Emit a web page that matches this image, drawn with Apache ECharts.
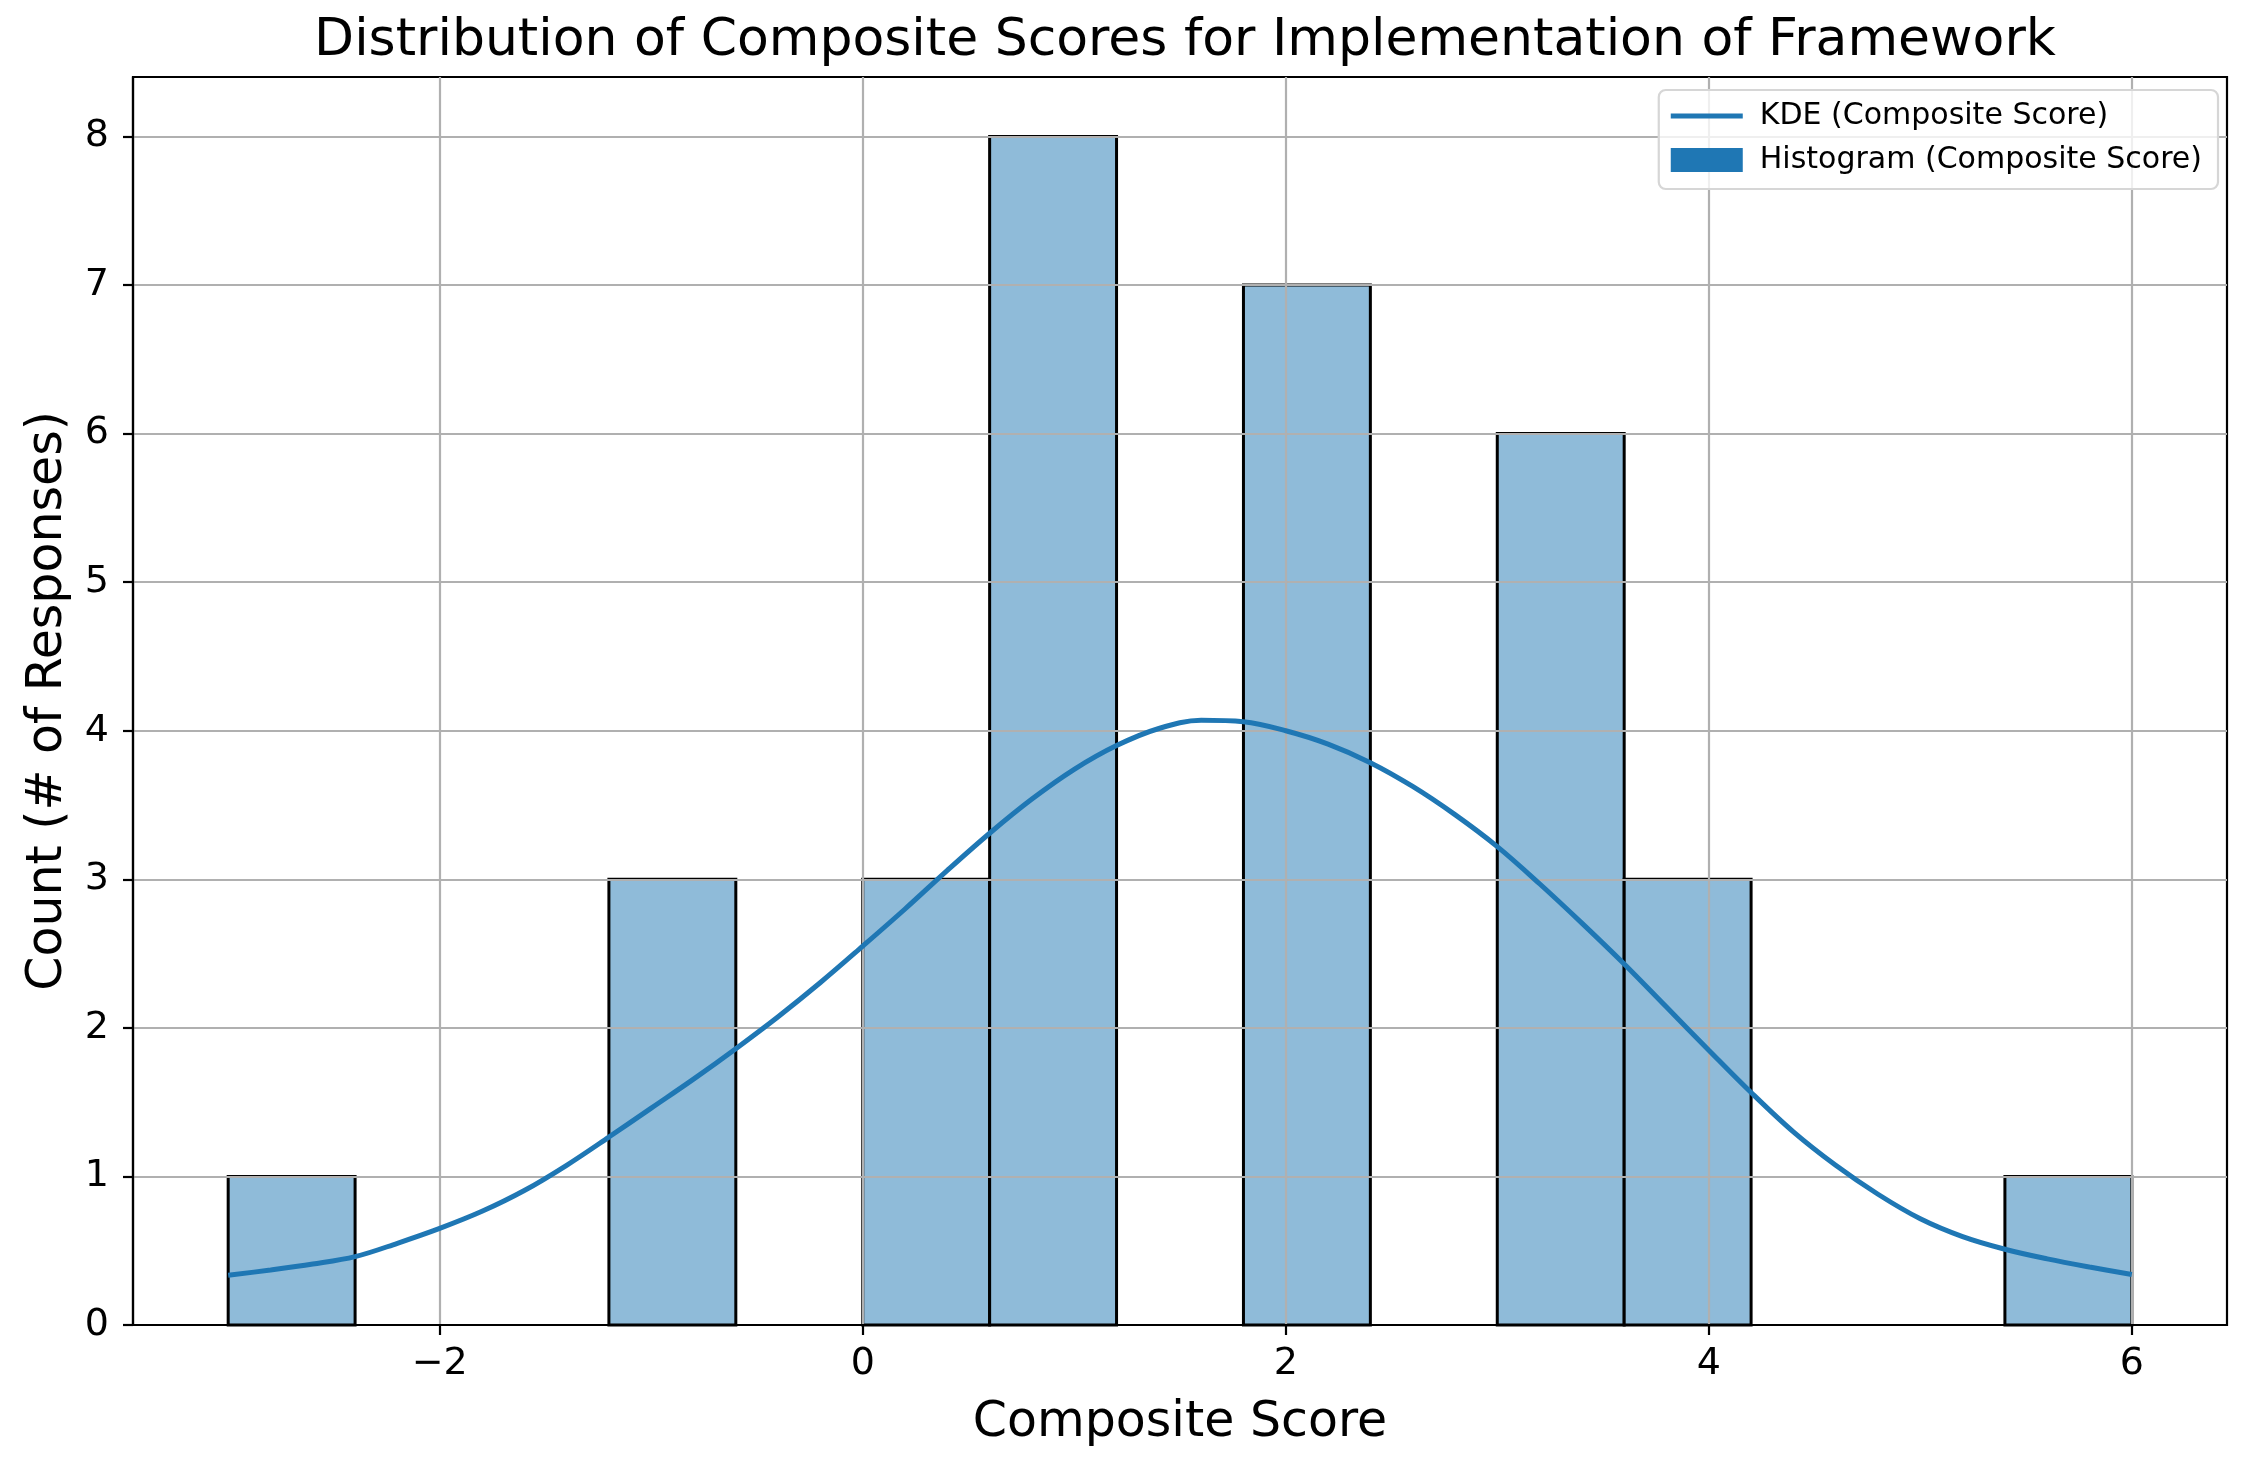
<!DOCTYPE html>
<html>
<head>
<meta charset="utf-8">
<script src="https://cdn.jsdelivr.net/npm/echarts@6/dist/echarts.min.js"></script>
<style>
html,body{margin:0;padding:0;background:#fff;}
#chart{width:2248px;height:1462px;}
</style>
</head>
<body>
<div id="chart"></div>
<script>
// ---- data ----
const binEdges = [-3.0, -2.4, -1.8, -1.2, -0.6, 0.0, 0.6, 1.2, 1.8, 2.4, 3.0, 3.6, 4.2, 4.8, 5.4, 6.0];
const binCounts = [1, 0, 0, 3, 0, 3, 8, 0, 7, 0, 6, 3, 0, 0, 1];
const kdeX = [-3.0, -2.8, -2.6, -2.4, -2.2, -2.0, -1.8, -1.6, -1.4, -1.2, -1.0, -0.8, -0.6, -0.4, -0.2,
              0.0, 0.2, 0.4, 0.6, 0.8, 1.0, 1.2, 1.4, 1.6, 1.8, 2.0, 2.2, 2.4, 2.6, 2.8,
              3.0, 3.2, 3.4, 3.6, 3.8, 4.0, 4.2, 4.4, 4.6, 4.8, 5.0, 5.2, 5.4, 5.6, 5.8, 6.0];
const kdeY = [0.335, 0.37, 0.41, 0.46, 0.55, 0.65, 0.765, 0.905, 1.075, 1.265, 1.46, 1.655, 1.86, 2.075, 2.305,
              2.55, 2.80, 3.06, 3.31, 3.54, 3.74, 3.90, 4.015, 4.07, 4.06, 4.00, 3.91, 3.785, 3.625, 3.435,
              3.22, 2.97, 2.705, 2.43, 2.14, 1.85, 1.565, 1.30, 1.075, 0.88, 0.715, 0.595, 0.51, 0.445, 0.39, 0.34];
const xTicks = [-2, 0, 2, 4, 6];
const yTicks = [0, 1, 2, 3, 4, 5, 6, 7, 8];

const titleText = 'Distribution of Composite Scores for Implementation of Framework';
const xName = 'Composite Score';
const yName = 'Count (# of Responses)';
const kdeName = 'KDE (Composite Score)';
const histName = 'Histogram (Composite Score)';

// ---- build ----
const histData = binCounts.map((c, i) => [binEdges[i], binEdges[i + 1], c]);
const kdeData = kdeX.map((x, i) => [x, kdeY[i]]);

const FONT = 'DejaVu Sans';
const chart = echarts.init(document.getElementById('chart'), null, {renderer: 'canvas'});
chart.setOption({
  animation: false,
  backgroundColor: '#ffffff',
  textStyle: {fontFamily: FONT, color: '#000'},
  title: {
    text: titleText,
    left: 1180,
    top: 10,
    textAlign: 'center',
    textStyle: {fontFamily: FONT, fontSize: 52, fontWeight: 'normal', color: '#000'}
  },
  legend: {
    orient: 'vertical',
    right: 30,
    top: 90,
    padding: [11, 16, 14, 12],
    itemGap: 14,
    itemWidth: 72,
    itemHeight: 24,
    symbolKeepAspect: true,
    backgroundColor: 'rgba(255,255,255,0.8)',
    borderColor: '#d6d6d6',
    borderWidth: 2.2,
    borderRadius: 7,
    textStyle: {fontFamily: FONT, fontSize: 30, color: '#000', lineHeight: 30, padding: [0, 0, 0, 12]},
    data: [
      {name: kdeName, icon: 'path://M0,0 L72,0 L72,4.8 L0,4.8 Z',
       itemStyle: {color: '#1f77b4', borderWidth: 0}, lineStyle: {width: 0}},
      {name: histName, icon: 'rect', itemStyle: {color: '#1f77b4', borderWidth: 0}}
    ]
  },
  grid: {
    left: 133, right: 21, top: 77, bottom: 137,
    show: true, borderColor: '#000', borderWidth: 2.2, backgroundColor: 'transparent'
  },
  xAxis: {
    type: 'value',
    min: -3.45,
    max: 6.45,
    splitNumber: 5,
    z: 3,
    name: xName,
    nameLocation: 'middle',
    nameGap: 74,
    nameTextStyle: {fontFamily: FONT, fontSize: 49, color: '#000'},
    axisLine: {show: true, onZero: false, lineStyle: {color: '#000', width: 2.2}},
    axisTick: {show: true, length: 10, customValues: xTicks, lineStyle: {color: '#000', width: 2.2}},
    axisLabel: {
      show: true, margin: 20, fontFamily: FONT, fontSize: 38, color: '#000',
      customValues: xTicks,
      formatter: v => String(v).replace('-', '\u2212')
    },
    splitLine: {show: true, lineStyle: {color: '#b0b0b0', width: 2.2}}
  },
  yAxis: {
    type: 'value',
    min: 0,
    max: 8.4,
    interval: 1,
    z: 3,
    name: yName,
    nameLocation: 'middle',
    nameGap: 60,
    nameTextStyle: {fontFamily: FONT, fontSize: 49, color: '#000'},
    axisLine: {show: true, onZero: false, lineStyle: {color: '#000', width: 2.2}},
    axisTick: {show: true, length: 10, customValues: yTicks, lineStyle: {color: '#000', width: 2.2}},
    axisLabel: {
      show: true, margin: 24, fontFamily: FONT, fontSize: 38, color: '#000',
      customValues: yTicks
    },
    splitLine: {show: true, lineStyle: {color: '#b0b0b0', width: 2.2}}
  },
  series: [
    {
      name: histName,
      type: 'custom',
      z: 2,
      data: histData,
      encode: {x: [0, 1], y: 2},
      itemStyle: {color: '#8fbbd9'},
      renderItem: function (params, api) {
        const x0 = api.value(0), x1 = api.value(1), c = api.value(2);
        if (!c) return null;
        const p0 = api.coord([x0, c]);
        const p1 = api.coord([x1, 0]);
        return {
          type: 'rect',
          shape: {x: p0[0], y: p0[1], width: p1[0] - p0[0], height: p1[1] - p0[1]},
          style: {fill: '#8fbbd9', stroke: '#000', lineWidth: 3}
        };
      }
    },
    {
      name: kdeName,
      type: 'line',
      z: 5,
      data: kdeData,
      smooth: 0.35,
      symbol: 'none',
      showSymbol: false,
      color: '#1f77b4',
      itemStyle: {color: '#1f77b4'},
      lineStyle: {color: '#1f77b4', width: 5}
    }
  ]
});
</script>
</body>
</html>
